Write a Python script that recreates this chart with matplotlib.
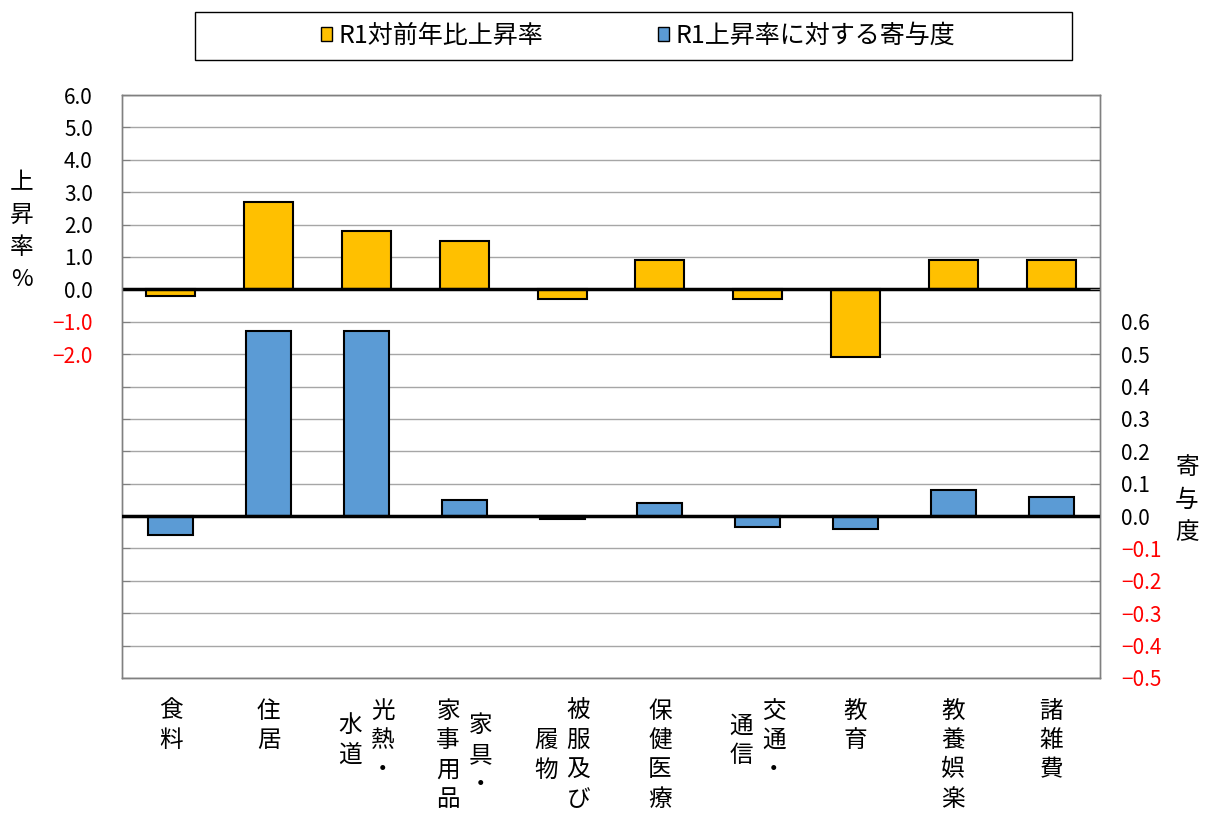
import numpy as np
import matplotlib
matplotlib.use("Agg")
import matplotlib.pyplot as plt
from matplotlib.patches import Patch, Rectangle
from matplotlib.transforms import blended_transform_factory

plt.rcParams['font.family'] = ['Noto Sans CJK JP', 'DejaVu Sans']

# category names, split into vertical columns (right column first)
categories = [["食料"], ["住居"], ["光熱・", "水道"], ["家具・", "家事用品"],
              ["被服及び", "履物"], ["保健医療"], ["交通・", "通信"], ["教育"],
              ["教養娯楽"], ["諸雑費"]]
rate = [-0.2, 2.7, 1.8, 1.5, -0.3, 0.9, -0.3, -2.1, 0.9, 0.9]
contrib = [-0.06, 0.57, 0.57, 0.05, -0.01, 0.04, -0.035, -0.04, 0.08, 0.06]

rate_label = "R1対前年比上昇率"
contrib_label = "R1上昇率に対する寄与度"

left_ticks = np.arange(-12, 7, 1)
right_ticks = np.round(np.arange(-0.5, 1.31, 0.1), 1)

ORANGE = "#FFC000"
BLUE = "#5B9BD5"
W, H = 1212, 816


def fmt(v):
    if abs(v) < 1e-9:
        v = 0.0
    return f"{v:.1f}".replace("-", "−")


fig = plt.figure(figsize=(W / 100, H / 100), dpi=100)
ax = fig.add_axes([122 / W, 1 - 678 / H, 978 / W, 583 / H])
ax2 = ax.twinx()

x = np.arange(len(categories))
ax.bar(x, rate, width=0.5, color=ORANGE, edgecolor="black", linewidth=1.5, zorder=3)
ax2.bar(x, contrib, width=0.46, color=BLUE, edgecolor="black", linewidth=1.5, zorder=3)

ax.set_xlim(-0.5, len(categories) - 0.5)
ax.set_ylim(-12, 6)
ax2.set_ylim(-0.5, 1.3)

ax.set_yticks(left_ticks)
ax.set_yticklabels([fmt(v) if v >= -2 else "" for v in left_ticks])
ax2.set_yticks(right_ticks)
ax2.set_yticklabels([fmt(v) if v <= 0.6 else "" for v in right_ticks])
for lab, v in zip(ax.get_yticklabels(), left_ticks):
    lab.set_color("red" if v < -1e-9 else "black")
for lab, v in zip(ax2.get_yticklabels(), right_ticks):
    lab.set_color("red" if v < -1e-9 else "black")

ax.set_xticks([])
ax.tick_params(axis="y", direction="in", length=6, pad=21, labelsize=15, color="#808080")
ax2.tick_params(axis="y", direction="in", length=7, pad=15, labelsize=15, color="#808080")

ax.grid(axis="y", color="#a6a6a6", linewidth=1, zorder=0)
ax.set_axisbelow(True)
ax.axhline(0, color="black", linewidth=2.5, zorder=4)
ax2.axhline(0, color="black", linewidth=2.5, zorder=4)
for a in (ax, ax2):
    for s in a.spines.values():
        s.set_color("#808080")
        s.set_linewidth(1)
ax2.patch.set_visible(False)

# vertical category labels
trans = blended_transform_factory(ax.transData, fig.transFigure)
pitch = 29.5
col_dx = 0.33
for i, cols in enumerate(categories):
    nmax = max(len(c) for c in cols)
    center = 711 + (nmax - 1) * pitch / 2
    ncol = len(cols)
    for j, col in enumerate(cols):
        dx = (ncol - 1) / 2 * col_dx - j * col_dx
        first = center - (len(col) - 1) * pitch / 2
        for k, ch in enumerate(col):
            ax.text(i + dx, 1 - (first + k * pitch) / H, ch, transform=trans,
                    ha="center", va="center", fontsize=17)

# axis titles, stacked vertically
for k, ch in enumerate("上昇率%"):
    fig.text(22 / W, 1 - (183 + k * 32) / H, ch, ha="center", va="center", fontsize=17)
for k, ch in enumerate("寄与度"):
    fig.text(1187 / W, 1 - (467 + k * 33) / H, ch, ha="center", va="center", fontsize=17)

# legend
fig.patches.append(Rectangle((195 / W, 1 - 60 / H), 877 / W, 48 / H, transform=fig.transFigure,
                             fill=False, edgecolor="black", linewidth=1))
handles = [Patch(facecolor=ORANGE, edgecolor="black", linewidth=1, label=rate_label),
           Patch(facecolor=BLUE, edgecolor="black", linewidth=1, label=contrib_label)]
fig.legend(handles=handles, loc="center", bbox_to_anchor=(638 / W, 1 - 36 / H), ncol=2,
           frameon=False, fontsize=18, handlelength=0.45, handleheight=0.45,
           handletextpad=0.25, columnspacing=4.6)

fig.savefig("out.png", dpi=100)
